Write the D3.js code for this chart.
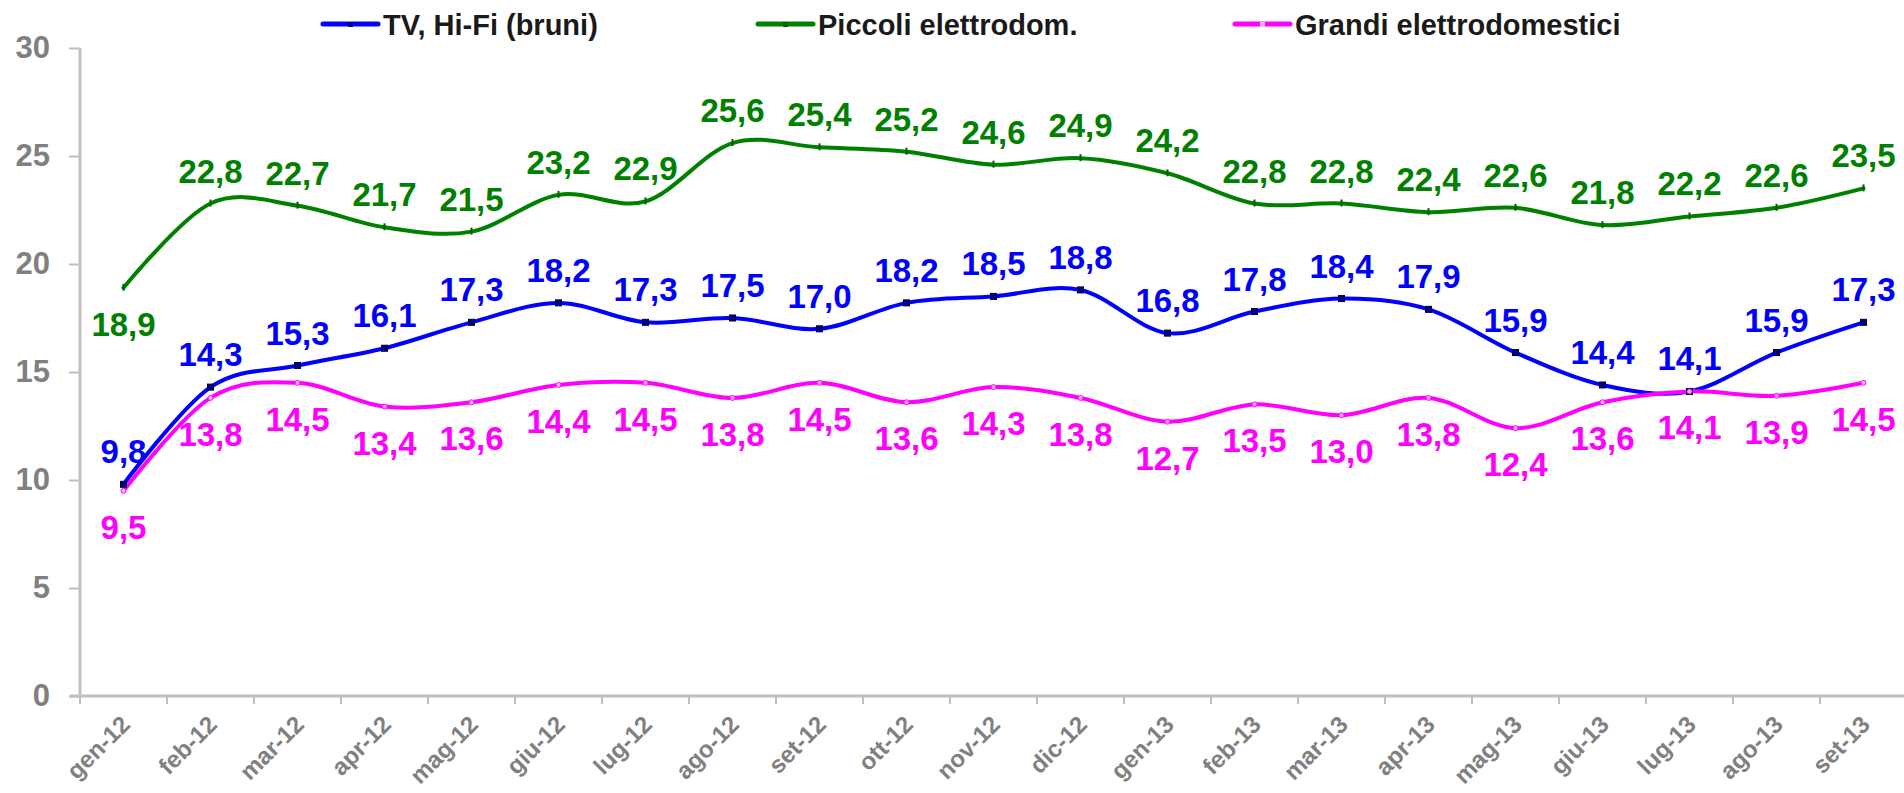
<!DOCTYPE html>
<html>
<head>
<meta charset="utf-8">
<script src="https://cdn.jsdelivr.net/npm/d3@7"></script>
<style>
  html, body { margin: 0; padding: 0; background: #fff; }
  #chart { width: 1904px; height: 793px; }
</style>
</head>
<body>
<div id="chart"></div>
<script>
// ── Data ─────────────────────────────────────────────────────────────────────
var months = ['gen-12','feb-12','mar-12','apr-12','mag-12','giu-12','lug-12','ago-12','set-12','ott-12','nov-12','dic-12',
              'gen-13','feb-13','mar-13','apr-13','mag-13','giu-13','lug-13','ago-13','set-13'];

var seriesNames = ['TV, Hi-Fi (bruni)', 'Piccoli elettrodom.', 'Grandi elettrodomestici'];

var tvHifi   = [9.8, 14.3, 15.3, 16.1, 17.3, 18.2, 17.3, 17.5, 17.0, 18.2, 18.5, 18.8, 16.8, 17.8, 18.4, 17.9, 15.9, 14.4, 14.1, 15.9, 17.3];
var piccoli  = [18.9, 22.8, 22.7, 21.7, 21.5, 23.2, 22.9, 25.6, 25.4, 25.2, 24.6, 24.9, 24.2, 22.8, 22.8, 22.4, 22.6, 21.8, 22.2, 22.6, 23.5];
var grandi   = [9.5, 13.8, 14.5, 13.4, 13.6, 14.4, 14.5, 13.8, 14.5, 13.6, 14.3, 13.8, 12.7, 13.5, 13.0, 13.8, 12.4, 13.6, 14.1, 13.9, 14.5];

var yTicks = [0, 5, 10, 15, 20, 25, 30];

(function() {

  var W = 1904, H = 793;
  var X0 = 80, BAND = 87;          // category band width, chart runs past the right edge
  var Y0 = 696, Y30 = 48;

  var STYLE = [
    { color: '#0000ff', marker: 'square', labelPos: 'above', legendX: 323  },
    { color: '#008000', marker: 'dash',   labelPos: 'above', legendX: 758  },
    { color: '#ff00ff', marker: 'circle', labelPos: 'below', legendX: 1235 }
  ];

  // a few labels Excel moved to the other side of the point
  var flipLabel = { '1|0': true };   // series|index

  var series = [tvHifi, piccoli, grandi].map(function(vals, i) {
    return { name: seriesNames[i], values: vals, style: STYLE[i], idx: i };
  });

  var svg = d3.select('#chart').append('svg')
    .attr('width', W).attr('height', H)
    .style('font-family', 'Liberation Sans, Arial, sans-serif');

  var x = d3.scaleBand().domain(months).range([X0, X0 + BAND * months.length]).paddingInner(0).paddingOuter(0);
  var y = d3.scaleLinear().domain([0, 30]).range([Y0, Y30]);

  function cx(m) { return x(m) + x.bandwidth() / 2; }

  // ── Axes ──────────────────────────────────────────────────────────────────
  var yAxis = svg.append('g').attr('transform', 'translate(' + X0 + ',0)')
    .call(d3.axisLeft(y).tickValues(yTicks).tickSize(11).tickPadding(19).tickFormat(d3.format('d')));
  yAxis.select('.domain').attr('stroke', '#bfbfbf').attr('stroke-width', 3).attr('d', 'M0,' + Y0 + 'V' + Y30);
  yAxis.selectAll('.tick line').attr('stroke', '#bfbfbf').attr('stroke-width', 2);
  yAxis.selectAll('.tick text')
    .attr('fill', '#808080').attr('font-size', '31px').attr('font-weight', 'bold')
    .attr('font-family', 'Liberation Sans, Arial, sans-serif');

  var xAxisG = svg.append('g');
  xAxisG.append('line')
    .attr('x1', X0 - 10).attr('x2', W).attr('y1', Y0).attr('y2', Y0)
    .attr('stroke', '#bfbfbf').attr('stroke-width', 3);
  xAxisG.selectAll('line.xt').data(months).enter().append('line').attr('class', 'xt')
    .attr('x1', function(d) { return x(d); }).attr('x2', function(d) { return x(d); })
    .attr('y1', Y0).attr('y2', Y0 + 8)
    .attr('stroke', '#bfbfbf').attr('stroke-width', 2);
  xAxisG.selectAll('text').data(months).enter().append('text')
    .attr('transform', function(d) { return 'translate(' + (cx(d) + 2) + ',' + (Y0 + 24) + ') rotate(-45)'; })
    .attr('text-anchor', 'end').attr('dy', '0.35em')
    .attr('fill', '#808080').attr('font-size', '24px').attr('font-weight', 'bold')
    .text(function(d) { return d; });

  // ── Lines ─────────────────────────────────────────────────────────────────
  var lineGen = d3.line()
    .x(function(d, i) { return cx(months[i]); })
    .y(function(d) { return y(d); })
    .curve(d3.curveCatmullRom.alpha(0));

  svg.append('g').selectAll('path').data(series).enter().append('path')
    .attr('fill', 'none')
    .attr('stroke', function(s) { return s.style.color; })
    .attr('stroke-width', 4)
    .attr('stroke-linecap', 'round')
    .attr('d', function(s) { return lineGen(s.values); });

  // ── Markers ───────────────────────────────────────────────────────────────
  series.forEach(function(s) {
    var g = svg.append('g');
    var pts = s.values.map(function(v, i) { return { m: months[i], v: v }; });
    if (s.style.marker === 'square') {
      g.selectAll('rect').data(pts).enter().append('rect')
        .attr('x', function(d) { return cx(d.m) - 3; }).attr('y', function(d) { return y(d.v) - 3; })
        .attr('width', 6).attr('height', 6)
        .attr('fill', '#000080').attr('stroke', '#000040').attr('stroke-width', 1);
    } else if (s.style.marker === 'circle') {
      g.selectAll('circle').data(pts).enter().append('circle')
        .attr('cx', function(d) { return cx(d.m); }).attr('cy', function(d) { return y(d.v); })
        .attr('r', 2.5).attr('fill', '#ffb3ff').attr('stroke', '#ff00ff').attr('stroke-width', 1);
    } else {
      g.selectAll('line').data(pts).enter().append('line')
        .attr('x1', function(d) { return cx(d.m); }).attr('x2', function(d) { return cx(d.m); })
        .attr('y1', function(d) { return y(d.v) - 4; }).attr('y2', function(d) { return y(d.v) + 3; })
        .attr('stroke', '#006000').attr('stroke-width', 2);
    }
  });

  // ── Data labels ───────────────────────────────────────────────────────────
  var fmt = function(v) { return d3.format('.1f')(v).replace('.', ','); };

  series.forEach(function(s) {
    svg.append('g').selectAll('text').data(s.values).enter().append('text')
      .attr('x', function(d, i) { return cx(months[i]); })
      .attr('y', function(d, i) {
        var above = s.style.labelPos === 'above';
        if (flipLabel[s.idx + '|' + i]) above = !above;
        return above ? y(d) - 21 : y(d) + 48;
      })
      .attr('text-anchor', 'middle')
      .attr('fill', s.style.color)
      .attr('font-size', '33px').attr('font-weight', 'bold')
      .text(fmt);
  });

  // ── Legend ────────────────────────────────────────────────────────────────
  var leg = svg.append('g');
  series.forEach(function(s) {
    var lx = s.style.legendX;
    leg.append('line')
      .attr('x1', lx).attr('x2', lx + 55).attr('y1', 24).attr('y2', 24)
      .attr('stroke', s.style.color).attr('stroke-width', 5).attr('stroke-linecap', 'round');
    leg.append('rect')
      .attr('x', lx + 25).attr('y', 22).attr('width', 5).attr('height', 5)
      .attr('fill', s.style.marker === 'square' ? '#000080' : (s.style.marker === 'circle' ? '#ffb3ff' : '#006000'));
    leg.append('text')
      .attr('x', lx + 60).attr('y', 35)
      .attr('fill', '#1a1a1a').attr('font-size', '29px').attr('font-weight', 'bold')
      .text(s.name);
  });

})();
</script>
</body>
</html>
